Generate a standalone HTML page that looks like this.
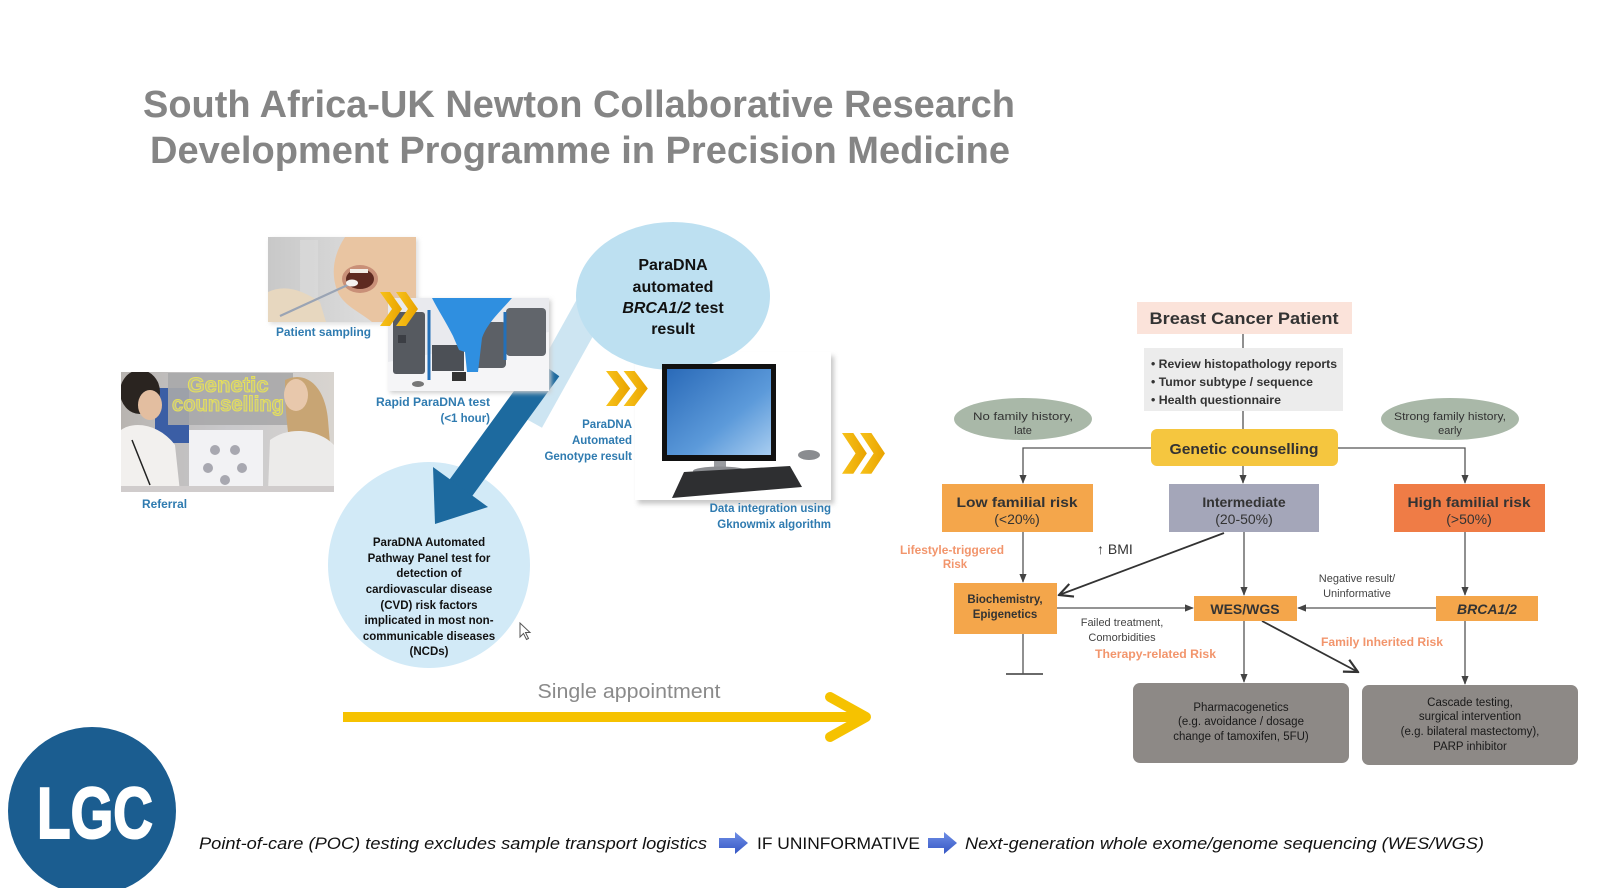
<!DOCTYPE html>
<html><head><meta charset="utf-8"><style>
html,body{margin:0;padding:0;background:#fff;}
body{width:1600px;height:888px;overflow:hidden;}
svg{display:block;}
text{font-family:"Liberation Sans",Arial,sans-serif;}
</style></head><body>
<svg width="1600" height="888" viewBox="0 0 1600 888" xmlns="http://www.w3.org/2000/svg">
<defs>
  <linearGradient id="chev" x1="0" y1="0" x2="1" y2="0">
    <stop offset="0" stop-color="#f7c21a"/><stop offset="1" stop-color="#e9a300"/>
  </linearGradient>
  <linearGradient id="pbg" x1="0" y1="0" x2="1" y2="0">
    <stop offset="0" stop-color="#c8c8c8"/><stop offset="1" stop-color="#e6e6e6"/>
  </linearGradient>
  <linearGradient id="scr" x1="0" y1="0" x2="1" y2="1">
    <stop offset="0" stop-color="#2a6ab8"/><stop offset="0.6" stop-color="#5c9ada"/><stop offset="1" stop-color="#a8cdf0"/>
  </linearGradient>
  <linearGradient id="barr" x1="0" y1="0" x2="0" y2="1">
    <stop offset="0" stop-color="#6f8fe6"/><stop offset="1" stop-color="#3556c4"/>
  </linearGradient>
  <linearGradient id="gcbg" x1="0" y1="0" x2="1" y2="0">
    <stop offset="0" stop-color="#b8b4b0"/><stop offset="0.5" stop-color="#c9c9cc"/><stop offset="1" stop-color="#d8d4cf"/>
  </linearGradient>
  <filter id="sh" x="-10%" y="-10%" width="120%" height="120%">
    <feGaussianBlur stdDeviation="2.5"/>
  </filter>
  <marker id="ah" viewBox="0 0 10 10" refX="9" refY="5" markerWidth="7" markerHeight="7" orient="auto-start-reverse">
    <path d="M0,1 L10,5 L0,9 Z" fill="#444"/>
  </marker>
  <marker id="av" viewBox="0 0 12 12" refX="11" refY="6" markerWidth="9" markerHeight="9" orient="auto">
    <path d="M1,1 L11,6 L1,11" fill="none" stroke="#333" stroke-width="1.6"/>
  </marker>
  <g id="dchev">
    <polygon points="0,0 10,0 22,17 10,34 0,34 12,17" fill="url(#chev)"/>
    <polygon points="16,0 26,0 38,17 26,34 16,34 28,17" fill="url(#chev)"/>
  </g>
  <clipPath id="cp1"><rect x="268" y="237" width="148" height="85"/></clipPath>
  <clipPath id="cp2"><rect x="388" y="298" width="161" height="93"/></clipPath>
  <clipPath id="cp3"><rect x="121" y="372" width="213" height="120"/></clipPath>
</defs>

<!-- Title -->
<text x="143" y="117" font-size="38" font-weight="bold" fill="#858585" textLength="872" lengthAdjust="spacingAndGlyphs">South Africa-UK Newton Collaborative Research</text>
<text x="150" y="163" font-size="38" font-weight="bold" fill="#858585" textLength="860" lengthAdjust="spacingAndGlyphs">Development Programme in Precision Medicine</text>

<!-- Light blue band behind -->
<line x1="592" y1="305" x2="528" y2="420" stroke="#cde5f2" stroke-width="32"/>

<!-- Bottom bubble -->
<ellipse cx="429" cy="565" rx="101" ry="103" fill="#d2eaf7"/>

<!-- Dark blue arrow -->
<line x1="548" y1="368" x2="460" y2="489" stroke="#1d6a9f" stroke-width="28"/>
<polygon points="435,524 488,507 433,467" fill="#1d6a9f"/>

<!-- Patient sampling photo -->
<rect x="270" y="239" width="148" height="85" fill="#ddd" filter="url(#sh)"/>
<g clip-path="url(#cp1)">
  <rect x="268" y="237" width="148" height="85" fill="url(#pbg)"/>
  <rect x="300" y="240" width="18" height="70" fill="#dadada" opacity="0.7"/>
  <path d="M345 237 L416 237 L416 322 L372 322 C360 312 342 305 337 290 C331 274 333 255 345 237 Z" fill="#e9c5a2"/>
  <ellipse cx="360" cy="279" rx="18" ry="14" fill="#c99078"/>
  <ellipse cx="360" cy="279" rx="14" ry="10" fill="#5e2a20"/>
  <rect x="350" y="269" width="18" height="4" fill="#f2ede6"/>
  <path d="M268 292 C285 284 302 290 320 302 L326 322 L268 322 Z" fill="#e7d7bf"/>
  <line x1="280" y1="316" x2="352" y2="283" stroke="#9aa4b4" stroke-width="2.2"/>
  <ellipse cx="352" cy="283" rx="6" ry="3.5" fill="#f4f2f0"/>
</g>
<text x="276" y="336" font-size="11.5" font-weight="bold" fill="#2f7bb0" textLength="95" lengthAdjust="spacingAndGlyphs">Patient sampling</text>

<!-- Device photo -->
<rect x="390" y="300" width="161" height="93" fill="#ccc" filter="url(#sh)"/>
<g clip-path="url(#cp2)">
  <rect x="388" y="298" width="161" height="93" fill="#e9eaee"/>
  <polygon points="388,391 388,362 549,332 549,391" fill="#f5f5f7"/>
  <rect x="393" y="312" width="32" height="62" rx="3" fill="#565a60"/>
  <rect x="398" y="335" width="8" height="8" fill="#3b3e44"/>
  <rect x="470" y="322" width="36" height="46" rx="4" fill="#5c6066"/>
  <rect x="506" y="308" width="40" height="48" rx="4" fill="#61656b"/>
  <rect x="432" y="345" width="32" height="26" fill="#4c5056"/>
  <path d="M432 298 L512 298 C500 312 488 322 482 338 L478 372 L467 372 L465 352 L459 350 L453 336 C446 322 438 310 432 298 Z" fill="#2f8fe0"/>
  <line x1="429" y1="310" x2="429" y2="380" stroke="#2470b8" stroke-width="3"/>
  <line x1="505" y1="312" x2="505" y2="360" stroke="#2470b8" stroke-width="3"/>
  <rect x="452" y="372" width="14" height="9" fill="#333"/>
  <ellipse cx="418" cy="384" rx="6" ry="3" fill="#777"/>
</g>
<use href="#dchev" transform="translate(380,292)"/>
<text x="490" y="406" font-size="11.5" font-weight="bold" fill="#2f7bb0" text-anchor="end" textLength="114" lengthAdjust="spacingAndGlyphs">Rapid ParaDNA test</text>
<text x="490" y="422" font-size="11.5" font-weight="bold" fill="#2f7bb0" text-anchor="end">(&lt;1 hour)</text>

<!-- Genetic counselling photo -->
<g clip-path="url(#cp3)">
  <rect x="121" y="372" width="213" height="120" fill="url(#gcbg)"/>
  <rect x="155" y="388" width="34" height="55" fill="#3b5ea5"/>
  <rect x="168" y="373" width="125" height="52" fill="#a9a9aa" opacity="0.9"/>
  <ellipse cx="140" cy="392" rx="20" ry="22" fill="#2a2420"/>
  <ellipse cx="150" cy="405" rx="12" ry="15" fill="#e3bea0"/>
  <path d="M121 430 C135 420 160 425 175 445 L180 492 L121 492 Z" fill="#f2f0ee"/>
  <line x1="132" y1="440" x2="150" y2="485" stroke="#222" stroke-width="1.5"/>
  <rect x="189" y="430" width="74" height="62" fill="#f2f2f4"/>
  <circle cx="215" cy="450" r="5" fill="#a8a8b0"/><circle cx="235" cy="450" r="5" fill="#a8a8b0"/>
  <circle cx="208" cy="468" r="5" fill="#a8a8b0"/><circle cx="242" cy="468" r="5" fill="#a8a8b0"/>
  <circle cx="225" cy="480" r="5" fill="#a8a8b0"/>
  <path d="M285 380 C305 370 325 385 328 420 L334 492 L300 492 C292 460 285 430 285 380 Z" fill="#c8a574"/>
  <ellipse cx="296" cy="395" rx="12" ry="16" fill="#e8c8ac"/>
  <path d="M270 440 C290 425 320 430 334 445 L334 492 L268 492 Z" fill="#ecebea"/>
  <rect x="121" y="486" width="213" height="6" fill="#d0cccc"/>
</g>
<text x="228" y="392" font-size="21" font-weight="bold" fill="#bdbd98" stroke="#e6e05a" stroke-width="1" text-anchor="middle" textLength="81" lengthAdjust="spacingAndGlyphs">Genetic</text>
<text x="228" y="411" font-size="21" font-weight="bold" fill="#bdbd98" stroke="#e6e05a" stroke-width="1" text-anchor="middle" textLength="112" lengthAdjust="spacingAndGlyphs">counselling</text>
<text x="142" y="508" font-size="11.5" font-weight="bold" fill="#2f7bb0" textLength="45" lengthAdjust="spacingAndGlyphs">Referral</text>

<!-- Bottom bubble text -->
<g font-size="11.5" font-weight="bold" fill="#111" text-anchor="middle">
  <text x="429" y="546">ParaDNA Automated</text>
  <text x="429" y="562">Pathway Panel test for</text>
  <text x="429" y="577">detection of</text>
  <text x="429" y="593">cardiovascular disease</text>
  <text x="429" y="609">(CVD) risk factors</text>
  <text x="429" y="624">implicated in most non-</text>
  <text x="429" y="640">communicable diseases</text>
  <text x="429" y="655">(NCDs)</text>
</g>
<!-- cursor -->
<path d="M520 623 L520 637 L523.5 633.5 L526.5 639.5 L528.5 638.5 L525.5 632.5 L530 632.5 Z" fill="#fff" stroke="#555" stroke-width="1"/>

<!-- Computer -->
<rect x="638" y="356" width="196" height="148" fill="#c8c8c8" filter="url(#sh)"/>
<rect x="635" y="352" width="196" height="148" fill="#fff"/>
<!-- top bubble -->
<ellipse cx="673" cy="296" rx="97" ry="74" fill="#bde0f1"/>
<g font-size="16" font-weight="bold" fill="#111" text-anchor="middle">
  <text x="673" y="270">ParaDNA</text>
  <text x="673" y="292">automated</text>
  <text x="673" y="313"><tspan font-style="italic">BRCA1/2</tspan> test</text>
  <text x="673" y="334">result</text>
</g>
<rect x="662" y="364" width="114" height="97" fill="#111"/>
<rect x="667" y="369" width="104" height="86" fill="url(#scr)"/>
<rect x="714" y="461" width="12" height="9" fill="#9a9ca0"/>
<ellipse cx="720" cy="471" rx="27" ry="4.5" fill="#8a8c90"/>
<polygon points="684,472 790,466 802,487 672,498" fill="#2e2f31"/>
<ellipse cx="809" cy="455" rx="11" ry="5" fill="#8a8c90"/>
<use href="#dchev" transform="translate(606,371) scale(1.1,1.03)"/>
<g font-size="11.5" font-weight="bold" fill="#2f7bb0" text-anchor="end">
  <text x="632" y="428">ParaDNA</text>
  <text x="632" y="444">Automated</text>
  <text x="632" y="460">Genotype result</text>
  <text x="831" y="512">Data integration using</text>
  <text x="831" y="528">Gknowmix algorithm</text>
</g>
<use href="#dchev" transform="translate(842,433) scale(1.13,1.2)"/>

<!-- Single appointment -->
<text x="629" y="698" font-size="20" fill="#8a8a8a" text-anchor="middle" textLength="183" lengthAdjust="spacingAndGlyphs">Single appointment</text>
<line x1="343" y1="717" x2="864" y2="717" stroke="#f6c200" stroke-width="10"/>
<polyline points="830,697 866,717 830,737" fill="none" stroke="#f6c200" stroke-width="10" stroke-linecap="round" stroke-linejoin="round"/>

<!-- LGC logo -->
<circle cx="92" cy="811" r="84" fill="#1b5d90"/>
<text x="37" y="838" font-size="72" font-weight="bold" fill="#fff" stroke="#fff" stroke-width="2" textLength="116" lengthAdjust="spacingAndGlyphs">LGC</text>

<!-- bottom text -->
<text x="199" y="849" font-size="17" font-style="italic" fill="#111" textLength="508" lengthAdjust="spacingAndGlyphs">Point-of-care (POC) testing excludes sample transport logistics</text>
<polygon points="719,838 735,838 735,832 748,843 735,854 735,848 719,848" fill="url(#barr)"/>
<text x="757" y="849" font-size="17" fill="#111" textLength="163" lengthAdjust="spacingAndGlyphs">IF UNINFORMATIVE</text>
<polygon points="928,838 944,838 944,832 957,843 944,854 944,848 928,848" fill="url(#barr)"/>
<text x="965" y="849" font-size="17" font-style="italic" fill="#111" textLength="519" lengthAdjust="spacingAndGlyphs">Next-generation  whole exome/genome sequencing (WES/WGS)</text>

<!-- Right flowchart -->
<g stroke="#555" stroke-width="1.3" fill="none">
  <line x1="1243" y1="334" x2="1243" y2="348"/>
  <line x1="1243" y1="411" x2="1243" y2="429"/>
  <polyline points="1151,448 1023,448 1023,483" marker-end="url(#ah)"/>
  <polyline points="1338,448 1465,448 1465,483" marker-end="url(#ah)"/>
  <line x1="1243" y1="466" x2="1243" y2="483" marker-end="url(#ah)"/>
  <line x1="1023" y1="532" x2="1023" y2="582" marker-end="url(#ah)"/>
  <line x1="1023" y1="634" x2="1023" y2="674"/>
  <line x1="1006" y1="674" x2="1043" y2="674" stroke-width="1.8"/>
  <line x1="1057" y1="608" x2="1193" y2="608" marker-end="url(#ah)"/>
  <line x1="1244" y1="532" x2="1244" y2="595" marker-end="url(#ah)"/>
  <line x1="1465" y1="532" x2="1465" y2="595" marker-end="url(#ah)"/>
  <line x1="1436" y1="608" x2="1298" y2="608" marker-end="url(#ah)"/>
  <line x1="1244" y1="621" x2="1244" y2="682" marker-end="url(#ah)"/>
  <line x1="1465" y1="621" x2="1465" y2="684" marker-end="url(#ah)"/>
</g>
<line x1="1224" y1="533" x2="1059" y2="595" stroke="#333" stroke-width="1.8" marker-end="url(#av)"/>
<line x1="1262" y1="621" x2="1358" y2="672" stroke="#333" stroke-width="1.8" marker-end="url(#av)"/>

<rect x="1137" y="302" width="215" height="32" fill="#fbe3da"/>
<text x="1244" y="324" font-size="17" font-weight="bold" fill="#333" text-anchor="middle" textLength="189" lengthAdjust="spacingAndGlyphs">Breast Cancer Patient</text>

<rect x="1144" y="348" width="199" height="63" fill="#ececec"/>
<g font-size="11.5" font-weight="bold" fill="#333">
  <text x="1151" y="368" textLength="186" lengthAdjust="spacingAndGlyphs">• Review histopathology reports</text>
  <text x="1151" y="386" textLength="162" lengthAdjust="spacingAndGlyphs">• Tumor subtype / sequence</text>
  <text x="1151" y="404" textLength="130" lengthAdjust="spacingAndGlyphs">• Health questionnaire</text>
</g>

<rect x="1151" y="429" width="187" height="37" rx="6" fill="#f5c63f"/>
<text x="1244" y="454" font-size="15" font-weight="bold" fill="#333" text-anchor="middle" textLength="149" lengthAdjust="spacingAndGlyphs">Genetic counselling</text>

<ellipse cx="1023" cy="419" rx="69" ry="21" fill="#a9b8a8"/>
<ellipse cx="1450" cy="419" rx="69" ry="21" fill="#a9b8a8"/>
<g font-size="11" fill="#333" text-anchor="middle">
  <text x="1023" y="420" textLength="100" lengthAdjust="spacingAndGlyphs">No family history,</text>
  <text x="1023" y="434">late</text>
  <text x="1450" y="420" textLength="112" lengthAdjust="spacingAndGlyphs">Strong family history,</text>
  <text x="1450" y="434">early</text>
</g>

<rect x="942" y="484" width="151" height="48" fill="#f4a64b"/>
<rect x="1169" y="484" width="150" height="48" fill="#a4a6b9"/>
<rect x="1394" y="484" width="151" height="48" fill="#ef7c46"/>
<g font-size="14" fill="#333" text-anchor="middle">
  <text x="1017" y="507" font-weight="bold" textLength="121" lengthAdjust="spacingAndGlyphs">Low familial risk</text>
  <text x="1017" y="524">(&lt;20%)</text>
  <text x="1244" y="507" font-weight="bold">Intermediate</text>
  <text x="1244" y="524">(20-50%)</text>
  <text x="1469" y="507" font-weight="bold" textLength="123" lengthAdjust="spacingAndGlyphs">High familial risk</text>
  <text x="1469" y="524">(&gt;50%)</text>
</g>

<g font-size="11.5" fill="#f2956c" font-weight="bold">
  <text x="952" y="554" text-anchor="middle" textLength="104" lengthAdjust="spacingAndGlyphs">Lifestyle-triggered</text>
  <text x="955" y="568" text-anchor="middle">Risk</text>
  <text x="1095" y="658" textLength="121" lengthAdjust="spacingAndGlyphs">Therapy-related Risk</text>
  <text x="1321" y="646" textLength="122" lengthAdjust="spacingAndGlyphs">Family Inherited Risk</text>
</g>
<text x="1097" y="554" font-size="14" fill="#333">↑ BMI</text>

<rect x="954" y="583" width="103" height="51" fill="#f4a64b"/>
<g font-size="11.5" font-weight="bold" fill="#333" text-anchor="middle">
  <text x="1005" y="603">Biochemistry,</text>
  <text x="1005" y="618">Epigenetics</text>
</g>
<rect x="1194" y="596" width="103" height="25" fill="#f4a64b"/>
<text x="1245" y="614" font-size="14" font-weight="bold" fill="#333" text-anchor="middle">WES/WGS</text>
<rect x="1436" y="596" width="102" height="25" fill="#f4a64b"/>
<text x="1487" y="614" font-size="14" font-weight="bold" font-style="italic" fill="#333" text-anchor="middle">BRCA1/2</text>

<g font-size="11" fill="#444" text-anchor="middle">
  <text x="1122" y="626">Failed treatment,</text>
  <text x="1122" y="641">Comorbidities</text>
  <text x="1357" y="582">Negative result/</text>
  <text x="1357" y="597">Uninformative</text>
</g>

<rect x="1133" y="683" width="216" height="80" rx="7" fill="#8d8986"/>
<rect x="1362" y="685" width="216" height="80" rx="7" fill="#8d8986"/>
<g font-size="11.5" fill="#1a1a1a" text-anchor="middle">
  <text x="1241" y="711">Pharmacogenetics</text>
  <text x="1241" y="725">(e.g. avoidance / dosage</text>
  <text x="1241" y="740">change of tamoxifen, 5FU)</text>
  <text x="1470" y="706">Cascade testing,</text>
  <text x="1470" y="720">surgical intervention</text>
  <text x="1470" y="735">(e.g. bilateral mastectomy),</text>
  <text x="1470" y="750">PARP inhibitor</text>
</g>
</svg>
</body></html>
